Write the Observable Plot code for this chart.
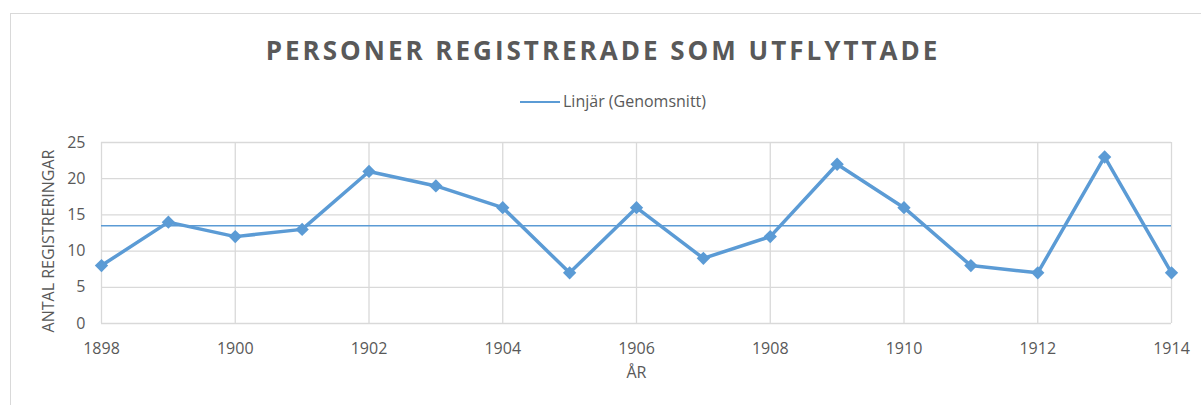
<!DOCTYPE html>
<html>
<head>
<meta charset="utf-8">
<script src="https://cdn.jsdelivr.net/npm/d3@7"></script>
<script src="https://cdn.jsdelivr.net/npm/@observablehq/plot@0.6"></script>
<style>
  html, body { margin: 0; padding: 0; background: #fff; }
  #wrap { position: relative; width: 1201px; height: 405px; overflow: hidden; font-family: "Open Sans", sans-serif; color: #595959; }
  #frame { position: absolute; left: 10px; top: 13px; width: 1200px; height: 400px; border: 1.5px solid #d9d9d9; box-sizing: border-box; }
  #title { position: absolute; left: 0; top: 37px; width: 1206px; text-align: center; font-size: 26px; line-height: 26px; font-weight: 700; letter-spacing: 3px; color: #595959; }
  #legline { position: absolute; left: 520px; top: 101px; width: 40px; height: 2px; background: #5b9bd5; }
  #legtext { position: absolute; left: 563px; top: 93px; font-size: 16px; line-height: 16px; color: #595959; white-space: nowrap; }
  #chart { position: absolute; left: 0; top: 120px; }
</style>
</head>
<body>
<div id="wrap">
  <div id="frame"></div>
  <div id="title">PERSONER REGISTRERADE SOM UTFLYTTADE</div>
  <div id="legline"></div>
  <div id="legtext">Linjär (Genomsnitt)</div>
  <div id="chart"></div>
</div>
<script>
const years = [1898, 1899, 1900, 1901, 1902, 1903, 1904, 1905, 1906, 1907, 1908, 1909, 1910, 1911, 1912, 1913, 1914];
const registrations = [8, 14, 12, 13, 21, 19, 16, 7, 16, 9, 12, 22, 16, 8, 7, 23, 7];
const averageValue = [13.5];
const xTicks = [1898, 1900, 1902, 1904, 1906, 1908, 1910, 1912, 1914];
const yTicks = [0, 5, 10, 15, 20, 25];
const yLabel = ["ANTAL REGISTRERINGAR"];
const xLabel = ["ÅR"];

const data = years.map((y, i) => ({year: y, value: registrations[i]}));

const blue = "#5b9bd5";
const grid = "#d9d9d9";
const textColor = "#595959";

const chart = Plot.plot({
  width: 1201,
  height: 285,
  marginTop: 22,
  marginBottom: 82,
  marginLeft: 101,
  marginRight: 30,
  style: {fontFamily: "'Open Sans', sans-serif", fontSize: "16px", color: textColor, background: "transparent", overflow: "visible"},
  x: {type: "linear", domain: [1898, 1914]},
  y: {domain: [0, 25]},
  marks: [
    Plot.gridX(xTicks, {stroke: grid, strokeOpacity: 1, strokeWidth: 1.3}),
    Plot.gridY(yTicks, {stroke: grid, strokeOpacity: 1, strokeWidth: 1.3}),
    Plot.axisX(xTicks, {tickSize: 0, tickPadding: 19, tickFormat: d => String(d), label: null, fill: textColor, fontSize: 16}),
    Plot.axisY(yTicks, {tickSize: 0, tickPadding: 16, label: null, fill: textColor, fontSize: 16}),
    Plot.ruleY(averageValue, {stroke: blue, strokeWidth: 1.6}),
    Plot.line(data, {x: "year", y: "value", stroke: blue, strokeWidth: 3.5, strokeLinejoin: "round"}),
    Plot.dot(data, {x: "year", y: "value", symbol: "diamond2", r: 6, fill: blue, stroke: "none"}),
    Plot.text(xLabel, {frameAnchor: "bottom", dy: 54, text: d => d, fill: textColor, fontSize: 16}),
    Plot.text(yLabel, {frameAnchor: "left", textAnchor: "middle", dx: -53, dy: 8, rotate: -90, text: d => d, fill: textColor, fontSize: 16})
  ]
});
document.getElementById("chart").appendChild(chart);
</script>
</body>
</html>
